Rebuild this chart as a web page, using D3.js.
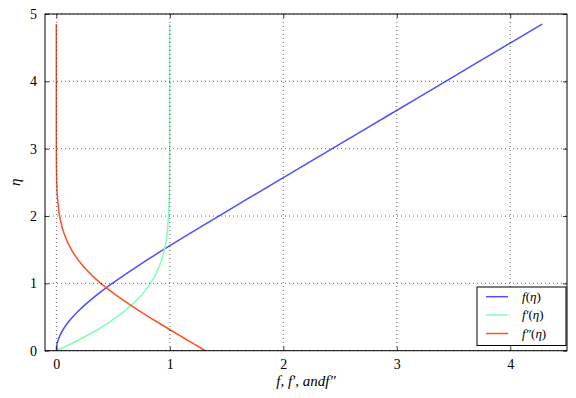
<!DOCTYPE html>
<meta charset="utf-8">
<style>
body{ margin:0; background-color:white; }
text{ font-family:"Liberation Serif", "DejaVu Serif", serif; }
</style>
<body>
<svg class="chart"></svg>
<script src="https://d3js.org/d3.v7.min.js"></script>
<script>
// eta values and the three solution curves
var eta = [0, 0.1, 0.2, 0.3, 0.4, 0.5, 0.6, 0.7, 0.8, 0.9, 1.0, 1.25, 1.5, 1.75, 2.0, 2.25, 2.5, 3.0, 3.5, 4.0, 4.5, 4.85];
var fVals = [0, 0.0064, 0.0249, 0.0545, 0.0943, 0.1432, 0.2003, 0.2647, 0.3354, 0.4115, 0.4924, 0.7103, 0.9434, 1.1850, 1.4308, 1.680, 1.930, 2.431, 2.931, 3.431, 3.931, 4.281];
var fpVals = [0, 0.1262, 0.2424, 0.3487, 0.4450, 0.5316, 0.6087, 0.6767, 0.7358, 0.7865, 0.8294, 0.9072, 0.9527, 0.9767, 0.9879, 0.9948, 0.9980, 0.9998, 1, 1, 1, 1];
var fppVals = [1.312, 1.212, 1.1122, 1.0128, 0.9146, 0.8182, 0.7245, 0.6343, 0.5484, 0.4674, 0.3910, 0.2392, 0.1325, 0.0656, 0.0284, 0.0110, 0.0038, 0.0003, 0, 0, 0, 0];

var xTicks = [0, 1, 2, 3, 4];
var yTicks = [0, 1, 2, 3, 4, 5];

var seriesNames = ["f", "f'", "f''"];
var seriesColors = ["#4d4ffc", "#80ffb4", "#ff4f28"];
var seriesData = [fVals, fpVals, fppVals];
</script>

<script>
var W = 576, H = 398;
var padL = 45, padR = 567, padT = 14, padB = 350.7;

var svg = d3.select('svg').attr('width', W).attr('height', H);

var x = d3.scaleLinear().domain([-0.1, 4.5]).range([padL, padR]);
var y = d3.scaleLinear().domain([0, 5]).range([padB, padT]);

// curves
var line = d3.line()
  .x(function (d) { return x(d[0]); })
  .y(function (d) { return y(d[1]); })
  .curve(d3.curveMonotoneY);

seriesData.forEach(function (vals, k) {
  var pts = eta.map(function (e, i) { return [vals[i], e]; });
  svg.append('path')
    .attr('d', line(pts))
    .attr('fill', 'none')
    .attr('stroke', seriesColors[k])
    .attr('stroke-width', 1.5);
});

// grid on top of the lines (classic style)
var grid = svg.append('g');
xTicks.forEach(function (t) {
  grid.append('line')
    .attr('x1', x(t)).attr('x2', x(t))
    .attr('y1', padT).attr('y2', padB);
});
yTicks.forEach(function (t) {
  grid.append('line')
    .attr('x1', padL).attr('x2', padR)
    .attr('y1', y(t)).attr('y2', y(t));
});
grid.selectAll('line')
  .attr('stroke', '#000')
  .attr('stroke-width', 0.6)
  .attr('stroke-dasharray', '1,3');

// axes with inward ticks on all four sides
function styleAxis (g) {
  g.select('.domain').remove();
  g.selectAll('.tick line').attr('stroke', '#000').attr('stroke-width', 0.8);
  g.selectAll('.tick text')
    .attr('font-family', '"Liberation Serif", serif')
    .attr('font-size', '14px')
    .attr('fill', '#000');
}

svg.append('g')
  .attr('transform', 'translate(0,' + padB + ')')
  .call(d3.axisBottom(x).tickValues(xTicks).tickFormat(d3.format('d')).tickSizeInner(-4).tickPadding(8))
  .call(styleAxis);

svg.append('g')
  .attr('transform', 'translate(0,' + padT + ')')
  .call(d3.axisTop(x).tickValues(xTicks).tickFormat('').tickSizeInner(-4))
  .call(styleAxis);

svg.append('g')
  .attr('transform', 'translate(' + padL + ',0)')
  .call(d3.axisLeft(y).tickValues(yTicks).tickFormat(d3.format('d')).tickSizeInner(-4).tickPadding(8))
  .call(styleAxis);

svg.append('g')
  .attr('transform', 'translate(' + padR + ',0)')
  .call(d3.axisRight(y).tickValues(yTicks).tickFormat('').tickSizeInner(-4))
  .call(styleAxis);

// frame
svg.append('rect')
  .attr('x', padL).attr('y', padT)
  .attr('width', padR - padL).attr('height', padB - padT)
  .attr('fill', 'none')
  .attr('stroke', '#000')
  .attr('stroke-width', 1);

// axis labels
svg.append('text')
  .attr('x', (padL + padR) / 2)
  .attr('y', 386)
  .attr('text-anchor', 'middle')
  .attr('font-size', '15px')
  .attr('font-style', 'italic')
  .text("f, f\u2032, andf\u2033");

svg.append('text')
  .attr('transform', 'translate(20,' + ((padT + padB) / 2) + ') rotate(-90)')
  .attr('text-anchor', 'middle')
  .attr('font-size', '15px')
  .attr('font-style', 'italic')
  .text("\u03B7");

// legend
var lg = svg.append('g');
lg.append('rect')
  .attr('x', 477).attr('y', 287)
  .attr('width', 89).attr('height', 58.5)
  .attr('fill', '#fff')
  .attr('stroke', '#000')
  .attr('stroke-width', 1);

var primes = ["", "\u2032", "\u2033"];
var rowY = [296.7, 315, 333.5];
seriesNames.forEach(function (n, k) {
  lg.append('line')
    .attr('x1', 486).attr('x2', 508)
    .attr('y1', rowY[k]).attr('y2', rowY[k])
    .attr('stroke', seriesColors[k])
    .attr('stroke-width', 1.5);
  var t = lg.append('text')
    .attr('x', 522).attr('y', rowY[k] + 4)
    .attr('font-size', '13px');
  t.append('tspan').attr('font-style', 'italic').text('f' + primes[k]);
  t.append('tspan').text('(');
  t.append('tspan').attr('font-style', 'italic').text('\u03B7');
  t.append('tspan').text(')');
});
</script>
</body>
